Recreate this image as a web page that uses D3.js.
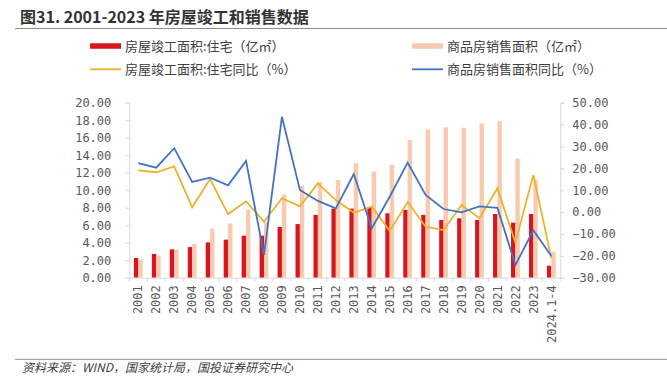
<!DOCTYPE html>
<html>
<head>
<meta charset="utf-8">
<script src="https://cdn.jsdelivr.net/npm/d3@7"></script>
<style>
  body { margin: 0; background: #fff; }
  svg { display: block; }
  .cjk { font-family: "Noto Sans CJK SC", sans-serif; }
  .num { font-family: "DejaVu Sans Mono", monospace; }
</style>
</head>
<body>
<svg id="chart" width="667" height="387"></svg>
<script>
// data
var years = ["2001","2002","2003","2004","2005","2006","2007","2008","2009","2010","2011","2012",
             "2013","2014","2015","2016","2017","2018","2019","2020","2021","2022","2023","2024.1-4"];
var completed = [2.25,2.71,3.24,3.5,4.04,4.35,4.8,4.8,5.8,6.13,7.17,7.9,
                 7.9,8.05,7.36,7.74,7.17,6.6,6.79,6.6,7.28,6.29,7.28,1.37];
var sold = [2.1,2.52,3.24,3.85,5.6,6.2,7.8,6.4,9.5,10.5,10.94,11.17,
            13.07,12.12,12.88,15.74,16.95,17.19,17.14,17.64,17.9,13.6,11.17,2.97];
var completedYoy = [19.1,18.2,20.9,2.2,15.1,-0.9,4.9,-4.4,6.3,2.6,13.1,5.5,
                    -0.3,2.5,-8.6,4.6,-6.7,-8.2,3.2,-2.8,10.9,-14.0,17.0,-21.1];
var soldYoy = [22.4,20.3,29.2,13.8,15.7,12.2,23.4,-19.6,43.6,10.1,5.1,1.7,
               17.4,-7.4,7.0,22.6,7.8,1.4,-0.1,2.6,1.9,-24.2,-8.3,-20.1];
var leftTicks = [0,2,4,6,8,10,12,14,16,18,20];
var rightTicks = [-30,-20,-10,0,10,20,30,40,50];

var svg = d3.select("#chart");
var pL = 129.3, pR = 560.3, pT = 102.7, pB = 277.7;

var x = d3.scaleBand().domain(years).range([pL, pR]);
var xs = d3.scaleBand().domain(["c","s"]).range([0, x.bandwidth()]).paddingOuter(1.05);
var yL = d3.scaleLinear().domain([0, 20]).range([pB, pT]);
var yR = d3.scaleLinear().domain([-30, 50]).range([pB, pT]);

// title
svg.append("text").attr("class","cjk").attr("x",20).attr("y",23)
  .attr("font-size",16).attr("font-weight","bold").attr("fill","#333")
  .text("图31. 2001-2023 年房屋竣工和销售数据");
svg.append("line").attr("x1",15).attr("x2",667).attr("y1",28.5).attr("y2",28.5)
  .attr("stroke","#8c8c8c").attr("stroke-width",1.2);

// bars
svg.append("g").selectAll("rect").data(completed).enter().append("rect")
  .attr("x", function(d,i){ return x(years[i]) + xs("c"); })
  .attr("width", xs.bandwidth())
  .attr("y", function(d){ return yL(d); })
  .attr("height", function(d){ return yL(0) - yL(d); })
  .attr("fill","#d9161f");
svg.append("g").selectAll("rect").data(sold).enter().append("rect")
  .attr("x", function(d,i){ return x(years[i]) + xs("s"); })
  .attr("width", xs.bandwidth())
  .attr("y", function(d){ return yL(d); })
  .attr("height", function(d){ return yL(0) - yL(d); })
  .attr("fill","#f9caae");

// axes
var axL = svg.append("g").attr("transform","translate(" + pL + ",0)")
  .call(d3.axisLeft(yL).tickValues(leftTicks).tickFormat(d3.format(".2f")).tickSize(4).tickPadding(14));
var axR = svg.append("g").attr("transform","translate(" + pR + ",0)")
  .call(d3.axisRight(yR).tickValues(rightTicks).tickFormat(d3.format(".2f")).tickSize(4).tickPadding(8));
var axB = svg.append("g").attr("transform","translate(0," + pB + ")")
  .call(d3.axisBottom(x).tickSize(0).tickPadding(6));
[axL, axR, axB].forEach(function(a){
  a.attr("font-family", null).attr("font-size", null);
  a.select(".domain").attr("stroke","#d9d9d9");
  a.selectAll(".tick line").attr("stroke","#d9d9d9");
  a.selectAll("text").attr("class","num").attr("font-size",12).attr("fill","#595959");
});
axB.selectAll(".tick text")
  .attr("text-anchor","end")
  .attr("transform","rotate(-90)")
  .attr("x",-7.5).attr("y",0).attr("dy","0.35em");
// category separators
axB.selectAll(".sep").data(years.concat(["end"])).enter().append("line")
  .attr("x1", function(d,i){ return pL + i * x.step(); })
  .attr("x2", function(d,i){ return pL + i * x.step(); })
  .attr("y1",0).attr("y2",4).attr("stroke","#d9d9d9");

// lines
var lineR = d3.line().x(function(d,i){ return x(years[i]) + x.bandwidth()/2; }).y(function(d){ return yR(d); });
svg.append("path").datum(completedYoy).attr("d", lineR)
  .attr("fill","none").attr("stroke","#ecb22e").attr("stroke-width",1.8);
svg.append("path").datum(soldYoy).attr("d", lineR)
  .attr("fill","none").attr("stroke","#4472c4").attr("stroke-width",1.8);

// legend
var legend = [
  {label:"房屋竣工面积:住宅（亿㎡）", color:"#d9161f", kind:"bar", x:90, y:46},
  {label:"商品房销售面积（亿㎡）", color:"#f9caae", kind:"bar", x:412, y:46},
  {label:"房屋竣工面积:住宅同比（%）", color:"#ecb22e", kind:"line", x:90, y:69.3},
  {label:"商品房销售面积同比（%）", color:"#4472c4", kind:"line", x:412, y:69.3}
];
var lg = svg.append("g").selectAll("g").data(legend).enter().append("g");
lg.filter(function(d){ return d.kind === "bar"; }).append("rect")
  .attr("x", function(d){ return d.x; }).attr("y", function(d){ return d.y - 2.75; })
  .attr("width",31).attr("height",5.5).attr("fill", function(d){ return d.color; });
lg.filter(function(d){ return d.kind === "line"; }).append("line")
  .attr("x1", function(d){ return d.x; }).attr("x2", function(d){ return d.x + 31; })
  .attr("y1", function(d){ return d.y; }).attr("y2", function(d){ return d.y; })
  .attr("stroke", function(d){ return d.color; }).attr("stroke-width",1.8);
lg.append("text").attr("class","cjk")
  .attr("x", function(d){ return d.x + 35; }).attr("y", function(d){ return d.y; })
  .attr("dy","0.35em").attr("font-size",13).attr("fill","#404040")
  .text(function(d){ return d.label; });

// footer
svg.append("line").attr("x1",15).attr("x2",667).attr("y1",359.3).attr("y2",359.3)
  .attr("stroke","#a6a6a6").attr("stroke-width",1.2);
svg.append("text").attr("class","cjk").attr("x",22).attr("y",372)
  .attr("font-size",12).attr("font-style","italic").attr("fill","#404040")
  .text("资料来源：WIND，国家统计局，国投证券研究中心");
</script>
</body>
</html>
